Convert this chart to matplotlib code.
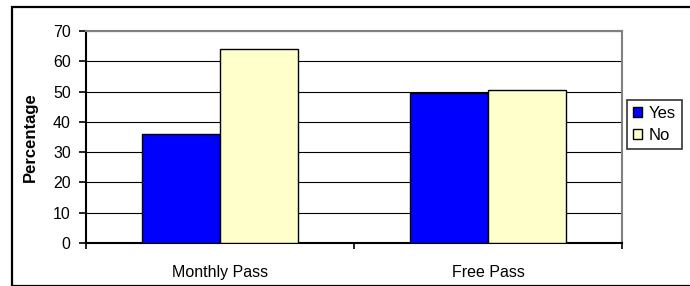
import numpy as np
import matplotlib
matplotlib.use("Agg")
import matplotlib.pyplot as plt
from matplotlib.patches import Rectangle

plt.rcParams['font.family'] = ['Liberation Sans', 'DejaVu Sans']

# data
categories = ["Monthly Pass", "Free Pass"]
series_names = ["Yes", "No"]
yes_values = [36.0, 49.4]
no_values = [64.0, 50.6]
y_ticks = [0, 10, 20, 30, 40, 50, 60, 70]

W, H = 690, 286
fig = plt.figure(figsize=(W / 100, H / 100), dpi=100)

# outer chart frame
fig.patches.append(Rectangle((12 / W, 0), 1.0, (H - 7) / H, transform=fig.transFigure,
                             fill=False, edgecolor="black", linewidth=1.6, clip_on=False))

ax = fig.add_axes([86 / W, (H - 243) / H, (622 - 86) / W, (243 - 31) / H])

x = np.arange(len(categories))
bw = 0.29
ax.bar(x - bw / 2, yes_values, bw, color="#0000ff", edgecolor="black", linewidth=1.0,
       label=series_names[0], zorder=3)
ax.bar(x + bw / 2, no_values, bw, color="#ffffcc", edgecolor="black", linewidth=1.0,
       label=series_names[1], zorder=3)

ax.set_xlim(-0.5, len(categories) - 0.5)
ax.set_ylim(0, 70)
ax.set_yticks(y_ticks)
ax.yaxis.grid(True, color="black", linewidth=0.8, zorder=0)
ax.set_axisbelow(True)

# category-boundary ticks on the x axis
ax.set_xticks(np.arange(-0.5, len(categories), 1.0))
ax.set_xticklabels([])
ax.set_xticks(x, minor=True)
ax.set_xticklabels(categories, minor=True, fontsize=11.5)
ax.tick_params(axis="x", which="major", length=4, width=1.2, direction="out")
ax.tick_params(axis="x", which="minor", length=0, pad=16)
ax.tick_params(axis="y", length=5, width=1.2, labelsize=11.5, pad=6)

for s in ["left", "bottom"]:
    ax.spines[s].set_color("black")
    ax.spines[s].set_linewidth(1.5)
for s in ["top", "right"]:
    ax.spines[s].set_color("#808080")
    ax.spines[s].set_linewidth(1.5)

ax.set_ylabel("Percentage", fontsize=12, fontweight="bold")
ax.yaxis.set_label_coords((38 - 86) / (622 - 86), 0.5)

leg = ax.legend(loc="upper left", bbox_to_anchor=(627 / W, (H - 100) / H),
                bbox_transform=fig.transFigure, frameon=True, fancybox=False,
                fontsize=12, handlelength=0.55, handleheight=0.55, handletextpad=0.4,
                borderpad=0.35, labelspacing=0.45, borderaxespad=0)
leg.get_frame().set_edgecolor("black")
leg.get_frame().set_linewidth(1.2)

fig.savefig("out.png", dpi=100)
